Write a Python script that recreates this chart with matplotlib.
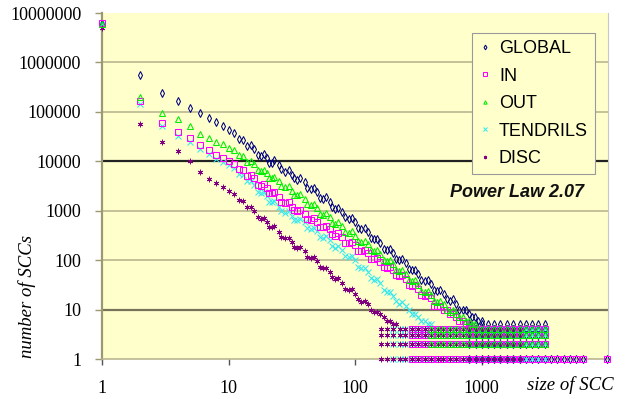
import matplotlib
matplotlib.use("Agg")
from matplotlib import pyplot as plt
import numpy as np

nan = np.nan

# component sizes shared by all series (main diagonal band)
sizes = [1, 2, 3, 4, 5, 6, 7, 8, 9, 10, 11, 12, 13, 14, 16, 18, 20, 22, 25, 28,
         32, 35, 40, 45, 50, 56, 63, 70, 79, 89, 100, 112, 126, 141, 158, 178,
         200, 224, 251, 282, 316, 355, 398, 447, 501, 562, 631, 708, 794, 891, 1000]
global_counts = [6000000, 560000, 245000, 166000, 120000, 93000, 74000, 62000, 51000, 43000,
                 36500, 28500, 26500, 20500, 18000, 12800, 11600, 9400, 8600, 6000,
                 5300, 4200, 3800, 2750, 2400, 1700, 1500, 1100, 950, 690,
                 580, 430, 365, 262, 225, 160, 138, 100, 87, 62,
                 53, 38, 33, 24, 21, 15, 13, 10, 8, 7, 6]
in_counts = [6200000, 166000, 60000, 39000, 29000, 21400, 16600, 13500, 11700, 10000,
             8900, 6900, 6800, 5100, 4600, 3150, 2900, 2250, 1900, 1400,
             1200, 970, 870, 660, 600, 460, 420, 315, 290, 220,
             200, 150, 138, 105, 93, 70, 63, 47, 42, 30,
             26, 19, 17, 12, 10, 8, 7, 6, 5, nan, nan]
out_counts = [6000000, 200000, 95000, 72000, 52000, 36000, 30000, 25000, 22400, 19000,
              17000, 13200, 12600, 9700, 8700, 6300, 5900, 4600, 4000, 2950,
              2550, 2050, 1750, 1280, 1130, 830, 740, 550, 490, 355,
              315, 235, 210, 150, 132, 95, 83, 60, 53, 37,
              32, 23, 20, 14, 13, 9, 8, 7, 6, 5, nan]
tendrils_counts = [6000000, 141000, 52000, 33000, 24000, 17800, 13800, 11200, 9500, 8300,
                   7200, 5500, 5200, 3900, 3350, 2250, 2000, 1480, 1200, 900,
                   800, 650, 580, 430, 380, 280, 250, 180, 157, 114,
                   100, 68, 58, 40, 34, 23, 19, 13, 12, 8,
                   7, 6, 5, nan, nan, nan, nan, nan, nan, nan, nan]
disc_counts = [5000000, 57000, 25000, 16000, 10000, 6000, 4400, 3600, 3000, 2500,
               2200, 1650, 1580, 1200, 1000, 680, 600, 460, 370, 275,
               230, 180, 152, 110, 95, 68, 57, 41, 35, 25,
               21, 14, 13, 9, 8, 6, 5, nan, nan, nan,
               nan, nan, nan, nan, nan, nan, nan, nan, nan, nan, nan]

# more sizes inside the band
sizes_b = [15, 17, 19, 21, 23, 26, 30, 33, 37, 42, 47, 53, 59, 66, 74, 84, 94, 106, 119,
           133, 150, 168, 188, 211, 237, 266, 299, 335, 376, 422, 473, 531, 596, 668,
           750, 841, 944]
global_b = [21400, 13500, 13800, 9300, 10400, 6960, 6770, 4600, 4630, 2920, 2940, 1820,
            1870, 1180, 1160, 730, 720, 450, 437, 275, 267, 168, 166, 104, 104, 65, 64,
            39, 40, 25, 25, 16, 16, 10, 10, 7, 6]
in_b = [5350, 3370, 3470, 2300, 2400, 1510, 1510, 1020, 1050, 673, 713, 471, 499, 331,
        347, 224, 236, 155, 159, 104, 110, 73, 74, 49, 50, 31, 31, 20, 20, 12, 12, 10, 8,
        6, 5, nan, nan]
out_b = [10250, 6620, 6770, 4600, 4900, 3140, 3120, 2090, 2140, 1350, 1380, 875, 891,
         572, 588, 370, 383, 241, 245, 157, 159, 100, 100, 63, 63, 39, 39, 24, 24, 15, 15,
         10, 10, 7, 6, 5, nan]
tendrils_b = [4010, 2410, 2410, 1510, 1550, 976, 980, 662, 695, 449, 454, 295, 303, 195,
              196, 120, 120, 74, 70, 43, 41, 25, 23, 15, 14, 10, 8, 6, 5, nan, nan, nan,
              nan, nan, nan, nan, nan]
disc_b = [1200, 740, 722, 471, 481, 297, 281, 185, 187, 114, 116, 71, 70, 45, 44, 26, 26,
          16, 15, 10, 9, 7, 6, 5, nan, nan, nan, nan, nan, nan, nan, nan, nan, nan, nan,
          nan, nan]

# tail: sizes where the counts flatten into rows of 1, 2, 3, 4 ...
tail_sizes = [130, 145, 160, 180, 200, 225, 250, 280, 315, 355, 400, 450, 500, 560,
              630, 710, 800, 900, 1000, 1120, 1260, 1410, 1580, 1780, 2000, 2240,
              2510, 2820, 3160]
far_sizes = [3550, 3980, 4470, 5010, 5620, 6310, 9800]

names = ["GLOBAL", "IN", "OUT", "TENDRILS", "DISC"]
band = [global_counts, in_counts, out_counts, tendrils_counts, disc_counts]
band_b = [global_b, in_b, out_b, tendrils_b, disc_b]
tail_start = [800, 280, 400, 200, 160]
tail_end = [3160, 3160, 3160, 3160, 2000]
tail_rows = [[1, 2, 3, 4, 5], [1, 2, 3, 4], [2, 3, 4], [1, 2, 3, 4], [1, 2, 3, 4]]
far_rows = [[1], [1], [], [], []]

colors = ["#000080", "#ff00ff", "#00ee00", "#33e8f0", "#800080"]
markers = ["d", "s", "^", "x", (6, 2, 0)]
zorders = [3, 5, 7, 4, 6]

fig = plt.figure(figsize=(6.33, 3.99), dpi=100)
ax = fig.add_axes([102 / 633, 1 - 359 / 399, 506 / 633, 346 / 399])
ax.set_facecolor("#ffffcc")
ax.set_xscale("log")
ax.set_yscale("log")
ax.set_xlim(1, 10000)
ax.set_ylim(1, 10000000)

for e in range(1, 7):
    v = 10 ** e
    if v == 10000:
        ax.axhline(v, color="#222222", lw=1.6, zorder=1)
    elif v == 10:
        ax.axhline(v, color="#77735a", lw=1.6, zorder=1)
    else:
        ax.axhline(v, color="#b4b08c", lw=1.1, zorder=1)

handles = []
for i in range(5):
    xs = list(sizes) + list(sizes_b)
    ys = list(band[i]) + list(band_b[i])
    for r in tail_rows[i]:
        for s in tail_sizes:
            if tail_start[i] <= s <= tail_end[i]:
                xs.append(s)
                ys.append(r)
    for r in far_rows[i]:
        for s in far_sizes:
            xs.append(s)
            ys.append(r)
    filled = markers[i] in ("x", (6, 2, 0))
    h, = ax.plot(xs, ys, ls="none", marker=markers[i], ms=4.0,
                 mfc=colors[i] if filled else "none", mec=colors[i],
                 mew=0.6 if i == 4 else 0.75,
                 label=names[i], zorder=zorders[i], clip_on=False)
    handles.append(h)

ax.spines["top"].set_visible(False)
ax.spines["right"].set_color("#c8c8c8")
ax.spines["right"].set_linewidth(0.8)
ax.spines["left"].set_color("#9c9870")
ax.spines["left"].set_linewidth(1.6)
ax.spines["bottom"].set_color("#b4b08c")
ax.spines["bottom"].set_linewidth(1.1)

ax.minorticks_off()
ax.set_yticks([10 ** e for e in range(8)])
ax.set_yticklabels([str(10 ** e) for e in range(8)])
ax.set_xticks([1, 10, 100, 1000])
ax.set_xticklabels(["1", "10", "100", "1000"])
ax.tick_params(axis="y", length=5, width=1, color="#9c9870", pad=10)
ax.tick_params(axis="x", length=4, width=1, color="#555555", pad=11)
for lab in ax.get_xticklabels() + ax.get_yticklabels():
    lab.set_fontfamily("Liberation Serif")
    lab.set_fontsize(13)

leg = ax.legend(handles=handles, loc="upper left", bbox_to_anchor=(0.731, 0.942),
                borderaxespad=0, frameon=True, fancybox=False, framealpha=1,
                facecolor="#ffffcc", edgecolor="#999999",
                prop={"family": "Liberation Sans", "size": 13},
                labelspacing=0.58, handlelength=0.6, handletextpad=0.5,
                borderpad=0.4, markerscale=0.6)
leg.get_frame().set_linewidth(0.8)
leg.set_zorder(10)

ax.text(0.82, 0.48, "Power Law 2.07", transform=ax.transAxes, ha="center",
        va="center", fontfamily="Liberation Sans", fontsize=13,
        fontweight="bold", fontstyle="italic", color="#111111")

fig.text(27 / 633, 1 - 297 / 399, "number of SCCs", rotation=90, ha="center",
         va="center", fontfamily="Liberation Serif", fontstyle="italic", fontsize=13.5)
fig.text(527 / 633, 1 - 385 / 399, "size of SCC", ha="left", va="center",
         fontfamily="Liberation Serif", fontstyle="italic", fontsize=13.5)

fig.savefig("out.png", dpi=100)
